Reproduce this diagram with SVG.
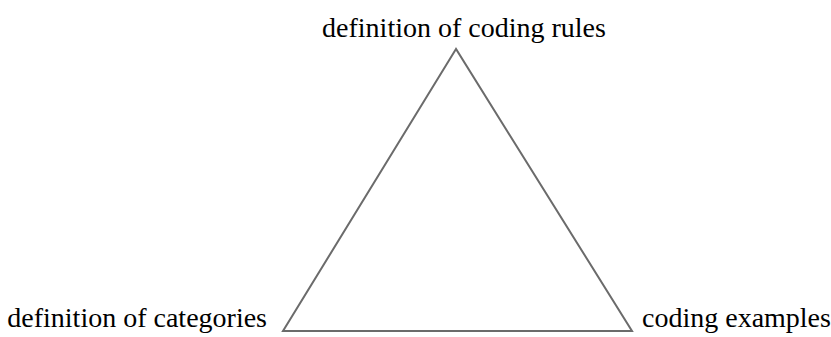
<svg xmlns="http://www.w3.org/2000/svg" width="831" height="337" viewBox="0 0 831 337">
  <style>
    .label { font-family: "Liberation Serif", "Times New Roman", serif; font-size: 28px; fill: #000; }
    .edge { fill: none; stroke: #6b6b6b; stroke-width: 2; stroke-linejoin: miter; }
  </style>
  <rect width="831" height="337" fill="#fff"/>
  <g id="connectors">
    <polygon class="edge" points="456,49 283,331 632,331"/>
  </g>
  <g id="node-rules">
    <text class="label" x="464" y="37" text-anchor="middle">definition of coding rules</text>
  </g>
  <g id="node-categories">
    <text class="label" x="267" y="327" text-anchor="end">definition of categories</text>
  </g>
  <g id="node-examples">
    <text class="label" x="642" y="327">coding examples</text>
  </g>
</svg>
